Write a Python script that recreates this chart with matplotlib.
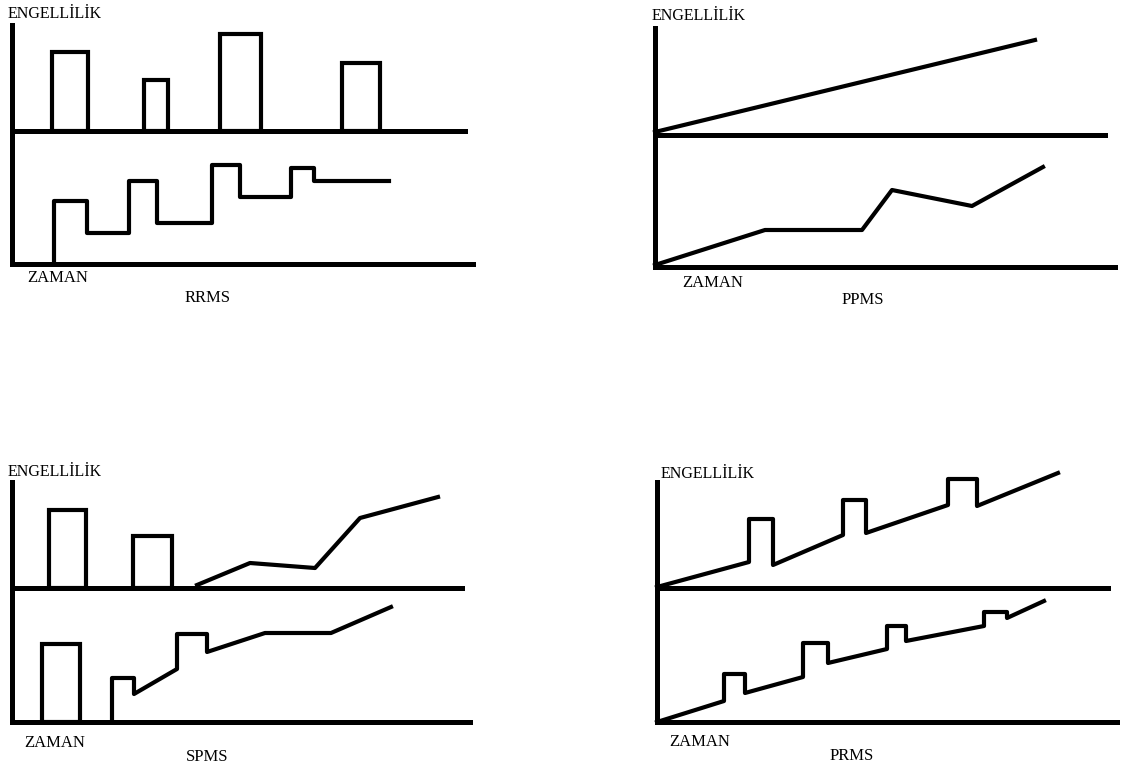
import matplotlib.pyplot as plt

plt.rcParams['font.family'] = ['Liberation Serif', 'DejaVu Serif']

W, H = 1122, 767

# --- RRMS (time, level); level 0 = bottom axis, middle line = upper baseline
rrms_mid = 133
rrms_bar_start = [40, 132, 208, 330]
rrms_bar_width = [36, 24, 41, 38]
rrms_bar_height = [79, 51, 97, 68]
rrms_step_t = [42, 42, 75, 117, 145, 200, 228, 279, 302, 377]
rrms_step_v = [0, 63, 31, 83, 41, 99, 67, 96, 83, 83]

# --- PPMS
ppms_mid = 132
ppms_top_t = [0, 380]
ppms_top_v = [135, 227]
ppms_low_t = [0, 110, 207, 237, 317, 388]
ppms_low_v = [2, 37, 37, 77, 61, 100]

# --- SPMS
spms_mid = 134
spms_bar_start = [37, 121]
spms_bar_width = [37, 39]
spms_bar_height = [78, 52]
spms_top_t = [185, 238, 303, 348, 426]
spms_top_v = [137, 159, 154, 204, 225]
spms_low_bar_start = [30]
spms_low_bar_width = [38]
spms_low_bar_height = [78]
spms_low_t = [100, 100, 122, 122, 165, 165, 195, 195, 253, 319, 379]
spms_low_v = [0, 44, 44, 28, 53, 88, 88, 70, 89, 89, 115]

# --- PRMS
prms_mid = 134
prms_top_t = [0, 92, 92, 116, 116, 186, 186, 209, 209, 291, 291, 320, 320, 401]
prms_top_v = [135, 160, 203, 203, 157, 187, 222, 222, 189, 217, 243, 243, 216, 249]
prms_low_t = [0, 67, 67, 88, 88, 146, 146, 171, 171, 230, 230, 249, 249, 327, 327, 350, 350, 387]
prms_low_v = [0, 21, 48, 48, 29, 45, 79, 79, 59, 73, 96, 96, 81, 96, 110, 110, 104, 121]

AX_LW = 3.6
LINE_LW = 3.0


def make_panel(fig, origin, height, mid, mid_len, bot_len):
    ox, oy = origin
    ax = fig.add_axes([ox / W, 1 - oy / H, bot_len / W, height / H])
    ax.set_xlim(0, bot_len)
    ax.set_ylim(0, height)
    ax.axis('off')
    ax.plot([0, 0], [0, height], color='black', lw=AX_LW, clip_on=False,
            solid_capstyle='projecting')
    ax.plot([0, mid_len], [mid, mid], color='black', lw=AX_LW, clip_on=False,
            solid_capstyle='projecting')
    ax.plot([0, bot_len], [0, 0], color='black', lw=AX_LW, clip_on=False,
            solid_capstyle='projecting')
    return ax


def labels(ax, height, eng_x, eng_dy, zaman_x, zaman_dy, name, name_x, name_dy):
    ax.text(eng_x, height + eng_dy, 'ENGELLİLİK', fontsize=11.5,
            ha='left', va='center', clip_on=False)
    ax.text(zaman_x, -zaman_dy, 'ZAMAN', fontsize=12,
            ha='center', va='center', clip_on=False)
    ax.text(name_x, -name_dy, name, fontsize=12,
            ha='center', va='center', clip_on=False)


def bars(ax, start, width, height, bottom):
    ax.bar(start, height, width=width, bottom=bottom, align='edge',
           fill=False, edgecolor='black', linewidth=LINE_LW, clip_on=False)


fig = plt.figure(figsize=(W / 100, H / 100), dpi=100)
fig.patch.set_facecolor('white')

# RRMS
ax = make_panel(fig, (12, 264), 239, rrms_mid, 453, 461)
bars(ax, rrms_bar_start, rrms_bar_width, rrms_bar_height, rrms_mid)
ax.step(rrms_step_t, rrms_step_v, where='post', color='black', lw=LINE_LW,
        clip_on=False)
labels(ax, 239, -4, 11, 46, 14, 'RRMS', 196, 34)

# PPMS
ax = make_panel(fig, (655, 267), 239, ppms_mid, 450, 460)
ax.plot(ppms_top_t, ppms_top_v, color='black', lw=LINE_LW, clip_on=False)
ax.plot(ppms_low_t, ppms_low_v, color='black', lw=LINE_LW, clip_on=False)
labels(ax, 239, -3, 12, 58, 16, 'PPMS', 208, 33)

# SPMS
ax = make_panel(fig, (12, 722), 240, spms_mid, 450, 458)
bars(ax, spms_bar_start, spms_bar_width, spms_bar_height, spms_mid)
ax.plot(spms_top_t, spms_top_v, color='black', lw=LINE_LW, clip_on=False)
bars(ax, spms_low_bar_start, spms_low_bar_width, spms_low_bar_height, 0)
ax.plot(spms_low_t, spms_low_v, color='black', lw=LINE_LW, clip_on=False)
labels(ax, 240, -4, 10, 43, 21, 'SPMS', 195, 35)

# PRMS
ax = make_panel(fig, (657, 722), 240, prms_mid, 451, 460)
ax.plot(prms_top_t, prms_top_v, color='black', lw=LINE_LW, clip_on=False)
ax.plot(prms_low_t, prms_low_v, color='black', lw=LINE_LW, clip_on=False)
labels(ax, 240, 4, 8, 43, 20, 'PRMS', 195, 34)

fig.savefig('out.png', dpi=100, facecolor='white')
